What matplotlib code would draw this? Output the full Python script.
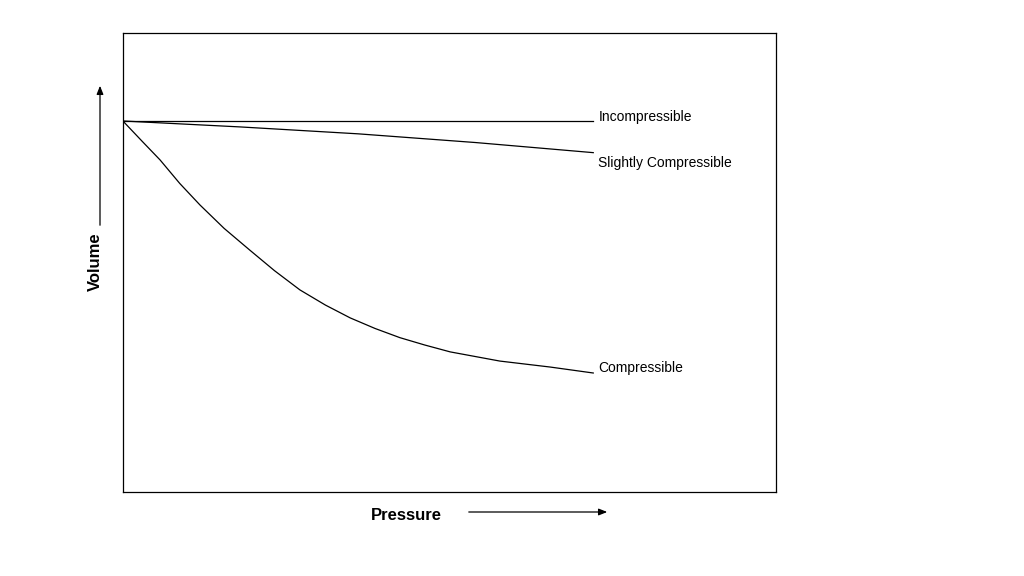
import matplotlib.pyplot as plt
from matplotlib.patches import FancyArrowPatch

# values (axes spans 0..100 in both directions)
incomp_x = [0, 72]
incomp_y = [80.8, 80.8]

slight_x = [0, 18, 36, 54, 72]
slight_y = [80.8, 79.5, 78.0, 76.1, 73.9]

comp_x = [0, 3, 5.7, 8.7, 11.8, 15.5, 19.4, 23.2, 27.1, 31, 34.8, 38.6, 42.4, 46.2, 50.1, 57.7, 65.4, 72.0]
comp_y = [80.8, 76.3, 72.3, 67.2, 62.5, 57.4, 52.7, 48.2, 44.0, 40.7, 37.9, 35.6, 33.6, 32.0, 30.5, 28.5, 27.2, 25.9]

labels = ["Incompressible", "Slightly Compressible", "Compressible"]
label_y = [81.7, 71.6, 27.0]

fig = plt.figure(figsize=(10.24, 5.76), dpi=100)
ax = fig.add_axes([0.120, 0.146, 0.638, 0.797])
ax.set_xlim(0, 100)
ax.set_ylim(0, 100)
ax.set_xticks([])
ax.set_yticks([])
for s in ax.spines.values():
    s.set_linewidth(0.9)

for xs, ys in [(incomp_x, incomp_y), (slight_x, slight_y), (comp_x, comp_y)]:
    ax.plot(xs, ys, color="black", lw=0.9)

for lab, ly in zip(labels, label_y):
    ax.text(72.8, ly, lab, fontsize=10, family="Liberation Sans", va="center")

# axis names with arrows
fig.text(0.093, 1 - 262 / 576, "Volume", rotation=90, ha="center", va="center",
         fontsize=12, fontweight="bold", family="Liberation Sans")
fig.text(406 / 1024, 1 - 515 / 576, "Pressure", ha="center", va="center",
         fontsize=12, fontweight="bold", family="Liberation Sans")
fig.patches.append(FancyArrowPatch(
    (100 / 1024, 1 - 228 / 576), (100 / 1024, 1 - 83 / 576), transform=fig.transFigure,
    arrowstyle="-|>,head_length=5,head_width=2", color="black", lw=0.9))
fig.patches.append(FancyArrowPatch(
    (466 / 1024, 1 - 512 / 576), (610 / 1024, 1 - 512 / 576), transform=fig.transFigure,
    arrowstyle="-|>,head_length=5,head_width=2", color="black", lw=0.9))

fig.savefig("out.png", dpi=100)
